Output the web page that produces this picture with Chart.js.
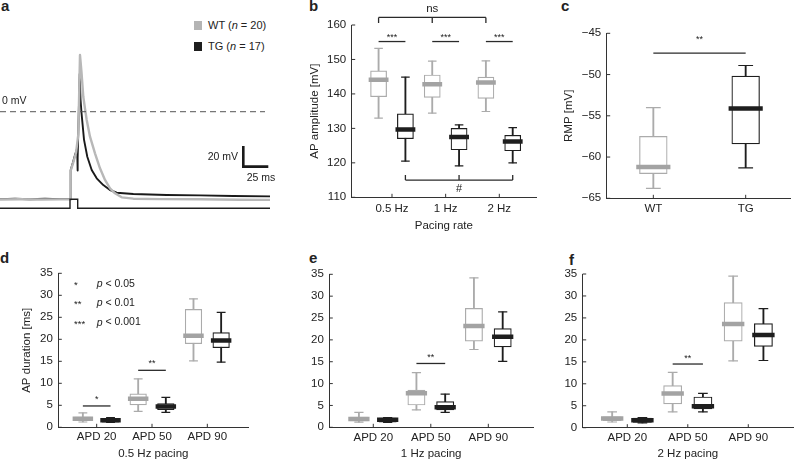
<!DOCTYPE html>
<html>
<head>
<meta charset="utf-8">
<script src="https://cdn.jsdelivr.net/npm/chart.js@4.4.1/dist/chart.umd.min.js"></script>
<style>
html, body { margin: 0; padding: 0; background: #fff; }
body { width: 794px; height: 461px; position: relative; overflow: hidden; font-family: "Liberation Sans", Arial, sans-serif; color: #222; }
canvas { position: absolute; }
.lbl { position: absolute; font-weight: bold; font-size: 15px; line-height: 15px; }
.txt { position: absolute; font-size: 11px; line-height: 12px; white-space: nowrap; }
.sw { position: absolute; width: 8px; height: 9px; }
</style>
</head>
<body>
<div class="lbl" style="left:1px;top:-2px">a</div>
<div class="lbl" style="left:309px;top:-2px">b</div>
<div class="lbl" style="left:561px;top:-2px">c</div>
<div class="lbl" style="left:0px;top:250px">d</div>
<div class="lbl" style="left:309px;top:250px">e</div>
<div class="lbl" style="left:569px;top:252px">f</div>

<div class="sw" style="left:194px;top:21px;background:#b4b4b4"></div>
<div class="txt" style="left:208px;top:19px">WT (<i>n</i> = 20)</div>
<div class="sw" style="left:194px;top:42px;background:#1e1e1e"></div>
<div class="txt" style="left:208px;top:40px">TG (<i>n</i> = 17)</div>

<script>
// ---- data ----
// panel a: averaged action potential traces (time in ms, voltage in mV)
const wtTime = [0, 20, 40, 60, 70.5, 70.7, 73, 76, 78.3, 80, 81.5, 83.3, 85, 86.7, 90, 95, 100, 105, 110, 115, 121.7, 133.3, 160, 200, 240, 270];
const wtVolt = [-85, -84.8, -85, -84.9, -84.9, -57, -50, -40, -22, 54.9, 38, 14.5, 3, -8, -24.2, -40.3, -54.8, -66.1, -74.2, -79, -82.9, -84.2, -84.6, -84.8, -85.2, -85.4];
const tgTime = [0, 15, 30, 45, 60, 70.5, 70.7, 73, 75, 77.2, 77.5, 77.8, 79.7, 80.5, 81.5, 84, 87.3, 91.7, 96.7, 103.3, 110, 116.7, 133.3, 166.7, 200, 233.3, 270];
const tgVolt = [-84.6, -84.2, -84.7, -84.3, -84.6, -84.5, -56.4, -49, -42, -35.5, -57, -45, 36.5, 12, -1, -27, -43.6, -56.4, -64.5, -71, -75.8, -78.4, -79.7, -80.6, -81, -81.6, -82];
const stimTime = [0, 70, 70, 77.7, 77.7, 270];
const stimVolt = [-93.5, -93.5, -84.7, -84.7, -93.5, -93.5];

// box stats: [min, q1, median, q3, max]
const rateLabels = ['0.5 Hz', '1 Hz', '2 Hz'];
const ampWT = [[133.0, 139.2, 144.1, 146.7, 153.2], [134.4, 139.0, 142.8, 145.5, 149.5], [134.9, 138.7, 143.3, 144.9, 149.6]];
const ampTG = [[120.5, 127.0, 129.7, 134.2, 144.9], [119.1, 123.8, 127.5, 130.0, 131.0], [120.0, 123.5, 126.2, 128.0, 130.2]];

const genoLabels = ['WT', 'TG'];
const rmpWT = [-63.8, -62.0, -61.2, -57.5, -54.0];
const rmpTG = [-61.3, -58.4, -54.1, -50.2, -48.9];

const apdLabels = ['APD 20', 'APD 50', 'APD 90'];
const apd05WT = [[1.2, 1.5, 1.95, 2.35, 3.3], [3.6, 5.1, 6.5, 7.6, 11.0], [15.1, 19.0, 20.8, 26.8, 29.2]];
const apd05TG = [[1.1, 1.15, 1.6, 2.05, 2.2], [3.4, 4.0, 4.7, 5.4, 6.8], [14.8, 18.1, 19.7, 21.5, 26.1]];
const apd1WT = [[1.2, 1.45, 1.9, 2.35, 3.4], [4.0, 5.1, 7.8, 8.5, 12.5], [17.8, 19.7, 23.2, 27.2, 34.2]];
const apd1TG = [[1.1, 1.2, 1.7, 2.1, 2.2], [3.4, 4.0, 4.6, 5.9, 7.6], [15.1, 18.4, 20.7, 22.6, 26.4]];
const apd2WT = [[1.3, 1.6, 2.1, 2.5, 3.6], [3.6, 5.4, 7.8, 9.6, 12.6], [15.2, 19.7, 23.6, 28.5, 34.5]];
const apd2TG = [[1.1, 1.2, 1.7, 2.2, 2.3], [3.6, 4.3, 4.9, 7.0, 7.8], [15.3, 18.5, 21.1, 23.7, 27.1]];

const sigStars = ['*', '**', '***'];
const sigLevels = ['0.05', '0.01', '0.001'];

// ---- style ----
const wtColor = '#ababab';
const wtMed = '#a3a3a3';
const tgColor = '#1e1e1e';
const axisColor = '#333';
const fontFam = '"Liberation Sans", Arial, sans-serif';
Chart.defaults.font.family = fontFam;
Chart.defaults.font.size = 11.5;
Chart.defaults.color = '#222';

const pts = (xs, ys) => xs.map((x, i) => ({x: x, y: ys[i]}));

// small inward tick marks like the original
const innerTicks = {
  id: 'innerTicks',
  afterDraw(chart, args, opts) {
    if (!opts.on) return;
    const {ctx, chartArea: a} = chart;
    const x = chart.scales.x, y = chart.scales.y;
    ctx.save();
    ctx.strokeStyle = axisColor;
    ctx.lineWidth = 1;
    ctx.beginPath();
    y.ticks.forEach(t => {
      const p = y.getPixelForValue(t.value);
      ctx.moveTo(a.left, p); ctx.lineTo(a.left + 3.5, p);
    });
    x.ticks.forEach(t => {
      const p = x.getPixelForValue(t.value);
      ctx.moveTo(p, a.bottom); ctx.lineTo(p, a.bottom - 3.5);
    });
    ctx.stroke();
    ctx.restore();
  }
};

// significance lines, brackets and free text
const notes = {
  id: 'notes',
  afterDatasetsDraw(chart, args, opts) {
    const {ctx} = chart;
    const x = chart.scales.x, y = chart.scales.y;
    ctx.save();
    ctx.strokeStyle = '#2a2a2a';
    ctx.fillStyle = '#222';
    ctx.lineWidth = 1.3;
    ctx.textBaseline = 'middle';
    for (const n of (opts.items || [])) {
      if (n.xs) {
        const px = n.xs.map(v => x.getPixelForValue(v));
        const py = y.getPixelForValue(n.y);
        ctx.beginPath();
        ctx.moveTo(px[0], py);
        ctx.lineTo(px[px.length - 1], py);
        if (n.tip !== undefined) {
          const pt = y.getPixelForValue(n.tip);
          px.forEach(p => { ctx.moveTo(p, py); ctx.lineTo(p, pt); });
        }
        ctx.stroke();
      }
      const size = n.size || 11;
      const tx = n.tx !== undefined ? n.tx : (n.xs ? (n.xs[0] + n.xs[n.xs.length - 1]) / 2 : 0);
      const ty = y.getPixelForValue(n.ty) + (n.dy || 0);
      if (n.rich) {
        // pieces of [text, italic], drawn left to right
        let cx = x.getPixelForValue(tx);
        ctx.textAlign = 'left';
        n.rich.forEach(([s, it]) => {
          ctx.font = (it ? 'italic ' : '') + size + 'px ' + fontFam;
          ctx.fillText(s, cx, ty);
          cx += ctx.measureText(s).width;
        });
      } else if (n.text) {
        ctx.font = size + 'px ' + fontFam;
        ctx.textAlign = n.align || 'center';
        ctx.fillText(n.text, x.getPixelForValue(tx), ty);
      }
    }
    ctx.restore();
  }
};

function makeCanvas(g) {
  const c = document.createElement('canvas');
  c.width = g.w;
  c.height = g.h;
  c.style.left = g.left + 'px';
  c.style.top = g.top + 'px';
  document.body.appendChild(c);
  return c;
}

function boxSets(stats, xs, color, medColor, sz) {
  return [
    {type: 'bar', data: stats.map((s, i) => ({x: xs[i], y: [s[0], s[4]]})), backgroundColor: color,
     barThickness: 1.2, grouped: false, order: 4},
    {type: 'bar', data: stats.map((s, i) => ({x: xs[i], y: [s[1], s[3]]})), backgroundColor: '#fff',
     borderColor: color, borderWidth: 1.2, borderSkipped: false, barThickness: sz.box, grouped: false, order: 3},
    {type: 'line', showLine: false, data: stats.flatMap((s, i) => [{x: xs[i], y: s[0]}, {x: xs[i], y: s[4]}]),
     pointStyle: 'line', pointRadius: sz.cap, pointBorderColor: color, pointBorderWidth: 1.2, order: 2},
    {type: 'line', showLine: false, data: stats.map((s, i) => ({x: xs[i], y: s[2]})),
     pointStyle: 'line', pointRadius: sz.med, pointBorderColor: medColor, pointBorderWidth: 4.5, order: 1}
  ];
}

function boxChart(g) {
  const u = (g.area.x1 - g.area.x0) / (g.xMax - g.xMin);
  const lh = 11.5 * 1.2;
  const padL = g.yTitle ? g.yTitleX - g.left - lh / 2 : 0;
  const yW = g.area.x0 - g.left - padL;
  const padB = g.xTitle ? g.top + g.h - g.xTitleY - lh / 2 : 0;
  const xH = g.top + g.h - padB - g.area.y1;
  const sz = {box: 0.3 * u, med: 0.185 * u, cap: 0.08 * u};
  const datasets = boxSets(g.wt, g.wtX, wtColor, wtMed, sz).concat(boxSets(g.tg, g.tgX, tgColor, tgColor, sz));
  new Chart(makeCanvas(g), {
    type: 'bar',
    data: {datasets: datasets},
    options: {
      responsive: false,
      animation: false,
      events: [],
      layout: {autoPadding: false, padding: {left: padL, right: g.left + g.w - g.area.x1, top: g.area.y0 - g.top, bottom: padB}},
      plugins: {legend: {display: false}, tooltip: {enabled: false}, notes: {items: g.notes}, innerTicks: {on: true}},
      scales: {
        x: {
          type: 'linear', min: g.xMin, max: g.xMax, offset: false,
          grid: {display: false, drawTicks: false},
          border: {color: axisColor, width: 1},
          ticks: {padding: g.xPad, autoSkip: false, maxRotation: 0, callback: v => g.cats[v - 1]},
          afterBuildTicks: s => { s.ticks = g.cats.map((c, i) => ({value: i + 1})); },
          afterFit: s => { s.height = xH; s.paddingLeft = 0; s.paddingRight = 0; },
          title: {display: !!g.xTitle, text: g.xTitle || '', padding: 0, font: {size: 11.5}}
        },
        y: {
          min: g.yMin, max: g.yMax,
          grid: {display: false, drawTicks: false},
          border: {color: axisColor, width: 1},
          ticks: {stepSize: g.yStep, padding: 5.5, callback: v => String(v).replace('-', '\u2212')},
          afterFit: s => { s.width = yW; s.paddingTop = 0; s.paddingBottom = 0; },
          title: {display: !!g.yTitle, text: g.yTitle || '', padding: 0, font: {size: 11.5}}
        }
      }
    },
    plugins: [innerTicks, notes]
  });
}

// ---- panel a ----
new Chart(makeCanvas({left: 0, top: 0, w: 282, h: 232}), {
  type: 'scatter',
  data: {
    datasets: [
      {data: pts(stimTime, stimVolt), showLine: true, pointRadius: 0, borderColor: '#1e1e1e', borderWidth: 1.4},
      {data: [{x: 0, y: 0}, {x: 265, y: 0}], showLine: true, pointRadius: 0, borderColor: '#555', borderWidth: 1, borderDash: [6, 4]},
      {data: pts(wtTime, wtVolt), showLine: true, pointRadius: 0, borderColor: '#b8b8b8', borderWidth: 2.4, borderJoinStyle: 'round'},
      {data: pts(tgTime, tgVolt), showLine: true, pointRadius: 0, borderColor: '#1a1a1a', borderWidth: 1.9, borderJoinStyle: 'round'},
      {data: [{x: 243.3, y: -33.2}, {x: 243.3, y: -53.2}, {x: 268.3, y: -53.2}], showLine: true, pointRadius: 0,
       borderColor: '#1a1a1a', borderWidth: 2.6, borderJoinStyle: 'miter'}
    ]
  },
  options: {
    responsive: false,
    animation: false,
    events: [],
    clip: false,
    layout: {autoPadding: false, padding: {left: 0, right: 12, top: 39.4, bottom: 17}},
    plugins: {
      legend: {display: false}, tooltip: {enabled: false},
      notes: {items: [
        {text: '0 mV', tx: 2, ty: 10.4, align: 'left', size: 10.5},
        {text: '20 mV', tx: 238, ty: -44.1, align: 'right', size: 10.5},
        {text: '25 ms', tx: 261, ty: -63.9, align: 'center', size: 10.5}
      ]}
    },
    scales: {
      x: {display: false, min: 0, max: 270},
      y: {display: false, min: -100, max: 70}
    }
  },
  plugins: [notes]
});

// ---- panel b ----
boxChart({
  left: 270, top: 0, w: 270, h: 236,
  area: {x0: 351.7, x1: 536, y0: 25, y1: 197.3},
  xMin: 0.249, xMax: 3.684, yMin: 110, yMax: 160, yStep: 10,
  yTitle: 'AP amplitude [mV]', yTitleX: 315, xTitle: 'Pacing rate', xTitleY: 226, xPad: 5,
  cats: rateLabels, wt: ampWT, tg: ampTG,
  wtX: rateLabels.map((c, i) => i + 0.75), tgX: rateLabels.map((c, i) => i + 1.25),
  notes: [
    {xs: [0.75, 1.75, 2.75], y: 162.2, tip: 160.6, text: 'ns', ty: 164.6, size: 11.5},
    {xs: [0.75, 1.25], y: 155.2, text: '***', ty: 156.5, size: 9},
    {xs: [1.75, 2.25], y: 155.2, text: '***', ty: 156.5, size: 9},
    {xs: [2.75, 3.25], y: 155.2, text: '***', ty: 156.5, size: 9},
    {xs: [1.25, 2.25, 3.25], y: 115.0, tip: 116.5, text: '#', tx: 2.25, ty: 112.4, size: 11}
  ]
});

// ---- panel c ----
boxChart({
  left: 540, top: 0, w: 254, h: 236,
  area: {x0: 606.7, x1: 790, y0: 33.3, y1: 198.3},
  xMin: 0.495, xMax: 2.48, yMin: -65, yMax: -45, yStep: 5,
  yTitle: 'RMP [mV]', yTitleX: 569.3, xPad: 4,
  cats: genoLabels, wt: [rmpWT], tg: [rmpTG], wtX: [1], tgX: [2],
  notes: [
    {xs: [1, 2], y: -47.4, text: '**', ty: -45.8, size: 9}
  ]
});

// ---- panels d, e, f ----
const legendRows = [32.5, 28.2, 23.8];
boxChart({
  left: 0, top: 236, w: 265, h: 225,
  area: {x0: 58.3, x1: 248.3, y0: 273.3, y1: 427.3},
  xMin: 0.306, xMax: 3.741, yMin: 0, yMax: 35, yStep: 5,
  yTitle: 'AP duration [ms]', yTitleX: 27.3, xTitle: '0.5 Hz pacing', xTitleY: 454, xPad: 3,
  cats: apdLabels, wt: apd05WT, tg: apd05TG,
  wtX: apdLabels.map((c, i) => i + 0.75), tgX: apdLabels.map((c, i) => i + 1.25),
  notes: [
    {xs: [0.75, 1.25], y: 4.85, text: '*', ty: 6.4, size: 9},
    {xs: [1.75, 2.25], y: 12.95, text: '**', ty: 14.4, size: 9}
  ].concat(sigStars.map((s, i) => ({text: s, tx: 0.59, ty: legendRows[i] - 0.3, align: 'left', size: 9.5})),
           sigLevels.map((s, i) => ({rich: [['p', true], [' < ' + s, false]], tx: 1.0, ty: legendRows[i], size: 10.5})))
});

boxChart({
  left: 270, top: 236, w: 270, h: 225,
  area: {x0: 329.3, x1: 533, y0: 274.3, y1: 427.3},
  xMin: 0.235, xMax: 3.777, yMin: 0, yMax: 35, yStep: 5,
  xTitle: '1 Hz pacing', xTitleY: 454, xPad: 3.5,
  cats: apdLabels, wt: apd1WT, tg: apd1TG,
  wtX: apdLabels.map((c, i) => i + 0.75), tgX: apdLabels.map((c, i) => i + 1.25),
  notes: [
    {xs: [1.75, 2.25], y: 14.6, text: '**', ty: 16.0, size: 9}
  ]
});

boxChart({
  left: 540, top: 236, w: 254, h: 225,
  area: {x0: 582.7, x1: 793, y0: 274, y1: 427.7},
  xMin: 0.263, xMax: 3.739, yMin: 0, yMax: 35, yStep: 5,
  xTitle: '2 Hz pacing', xTitleY: 454, xPad: 3,
  cats: apdLabels, wt: apd2WT, tg: apd2TG,
  wtX: apdLabels.map((c, i) => i + 0.75), tgX: apdLabels.map((c, i) => i + 1.25),
  notes: [
    {xs: [1.75, 2.25], y: 14.5, text: '**', ty: 15.8, size: 9}
  ]
});
</script>
</body>
</html>
